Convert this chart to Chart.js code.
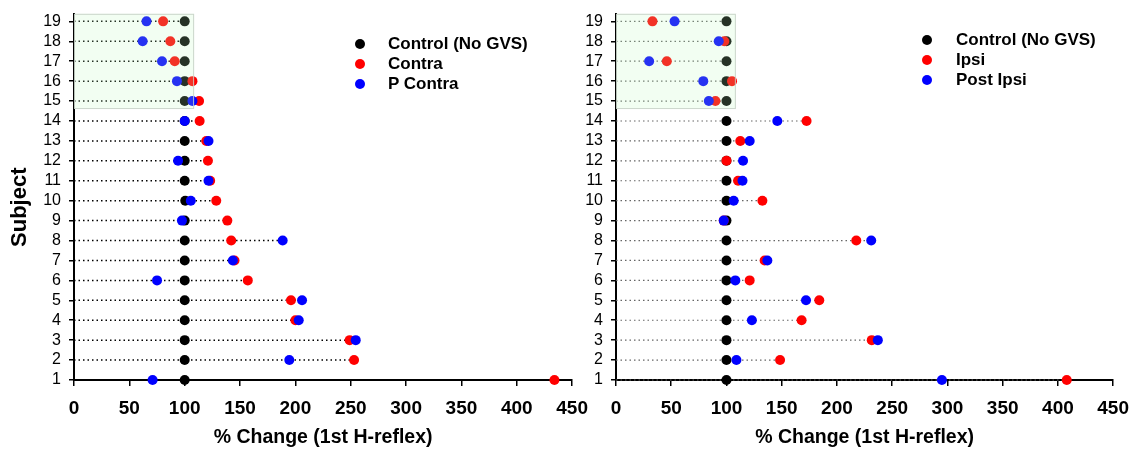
<!DOCTYPE html>
<html><head><meta charset="utf-8">
<script src="https://cdn.jsdelivr.net/npm/chart.js@4/dist/chart.umd.min.js"></script>
<style>
html,body{margin:0;padding:0;background:#fff;}
body{width:1134px;height:452px;position:relative;overflow:hidden;font-family:"Liberation Sans",Arial,sans-serif;}
canvas{position:absolute;top:0;}
.lg{position:absolute;font-weight:bold;font-size:17px;color:#000;white-space:nowrap;line-height:20px;height:20px;}
.dot{position:absolute;width:10px;height:10px;border-radius:50%;}
</style></head>
<body>
<canvas id="c1" width="599" height="452" style="left:0px"></canvas>
<canvas id="c2" width="573" height="452" style="left:567px"></canvas>
<div id="legends"></div>
<script>
// ---- data ----
const subjects = [1,2,3,4,5,6,7,8,9,10,11,12,13,14,15,16,17,18,19];
const xTicks = [0,50,100,150,200,250,300,350,400,450];
// Left panel (contralateral)
const controlLeft = [100,100,100,100,100,100,100,100,100,100.5,100,100,100,100,100,100,100,100,100];
const contra      = [434,253,249,200,196,157,145,142,138.5,128.5,123,121,119.5,113.5,113,107,91,87,80.5];
const pContra     = [71,194.5,254.5,203,206,75,143.5,188.5,97.5,105.5,121.5,94,121.5,100,107,93,79.5,62,65.5];
// Right panel (ipsilateral)
const controlRight = [100,100,100,100,100,100,100,100,100,100,100,100,100,100,100,100,100,100,100];
const ipsi         = [408,148.5,231.5,168,184,121,134.5,217.5,97.5,132.5,110.5,100,112.5,172.5,90,105,46,98,33];
const postIpsi     = [295,109,237,123,172,108,137,231,97.5,106.5,114.5,115,121,146,84,79,30,93,53];

const leftLabels  = ["Control (No GVS)","Contra","P Contra"];
const rightLabels = ["Control (No GVS)","Ipsi","Post Ipsi"];
const seriesColors = ["#000000","#ff0000","#0000ff"];
const yTitleText = "Subject";
const xTitleText = "% Change (1st H-reflex)";

// shaded region (subjects 15-19, values up to ~108)
const BOX_X_MIN = 0, BOX_X_MAX = 108.5, BOX_Y_MIN = 14.6, BOX_Y_MAX = 19.38;

function pts(vals){ return subjects.map((s,i)=>({x:vals[i], y:s})); }
function segs(a,b,c){
  const out=[];
  subjects.forEach((s,i)=>{
    out.push({x:0,y:s});
    out.push({x:Math.max(a[i],b[i],c[i]),y:s});
    out.push({x:null,y:null});
  });
  return out;
}

const FONT = '"Liberation Sans", Arial';

const boxPlugin = {
  id:'box',
  afterDatasetsDraw(chart){
    const {x,y} = chart.scales; const ctx = chart.ctx;
    const l = x.getPixelForValue(BOX_X_MIN), r = x.getPixelForValue(BOX_X_MAX);
    const t = y.getPixelForValue(BOX_Y_MAX), b = y.getPixelForValue(BOX_Y_MIN);
    ctx.save();
    ctx.fillStyle = 'rgba(190,250,190,0.2)';
    ctx.fillRect(l, t, r-l, b-t);
    ctx.strokeStyle = 'rgba(200,210,200,0.9)';
    ctx.lineWidth = 1;
    ctx.strokeRect(l+0.5, t+0.5, r-l-1, b-t-1);
    ctx.restore();
  }
};

// y-axis title, slightly below the axis centre as in the original
const yTitlePlugin = {
  id:'ytitle',
  afterDraw(chart, args, opts){
    if(!opts.show) return;
    const ctx = chart.ctx, ca = chart.chartArea;
    ctx.save();
    ctx.translate(20, (ca.top + ca.bottom)/2 + 10);
    ctx.rotate(-Math.PI/2);
    ctx.font = 'bold 22px ' + FONT;
    ctx.fillStyle = '#000';
    ctx.textAlign = 'center';
    ctx.textBaseline = 'middle';
    ctx.fillText(yTitleText, 0, 0);
    ctx.restore();
  }
};

function makeChart(id, ctrl, s1, s2, cfg){
  const ds = [
    {data:pts(s2), backgroundColor:seriesColors[2], pointRadius:5, pointBorderWidth:0, clip:false},
    {data:pts(s1), backgroundColor:seriesColors[1], pointRadius:5, pointBorderWidth:0, clip:false},
    {data:pts(ctrl), backgroundColor:seriesColors[0], pointRadius:5, pointBorderWidth:0, clip:false},
    {data:segs(ctrl,s1,s2), showLine:true, spanGaps:false, pointRadius:0, borderColor:cfg.dotColor, borderWidth:cfg.dotWidth, borderDash:[1.5,3], clip:false}
  ];
  return new Chart(document.getElementById(id), {
    type:'scatter',
    data:{datasets:ds},
    plugins:[boxPlugin, yTitlePlugin],
    options:{
      responsive:false, animation:false, devicePixelRatio:1,
      layout:{padding:{top:14, right:4, bottom:0, left:0}},
      plugins:{legend:{display:false}, tooltip:{enabled:false}, ytitle:{show:cfg.yTitle}},
      scales:{
        x:{type:'linear', min:0, max:450,
          afterBuildTicks(s){ s.ticks = xTicks.map(v=>({value:v})); },
          ticks:{color:'#000', font:{family:FONT, size:19, weight:'bold'}, padding:11, maxRotation:0, autoSkip:false},
          grid:{drawOnChartArea:false, drawTicks:true, tickLength:6, color:'#000', lineWidth:1.5},
          border:{color:'#000', width:2},
          title:{display:true, text:xTitleText, color:'#000', font:{family:FONT, size:19.5, weight:'bold'}, padding:{top:0,bottom:3}},
          afterFit(s){ s.height = 72; }
        },
        y:{type:'linear', min:1, max:19.35,
          afterBuildTicks(s){ s.ticks = subjects.map(v=>({value:v})); },
          ticks:{color:'#000', font:{family:FONT, size:16, lineHeight:0.8}, padding:8, autoSkip:false},
          grid:{drawOnChartArea:false, drawTicks:true, tickLength:5, color:'#000', lineWidth:1.5},
          border:{color:'#000', width:2},
          title:{display:false},
          afterFit(s){ s.width = cfg.yWidth; }
        }
      }
    }
  });
}

makeChart('c1', controlLeft, contra, pContra, {yWidth:74, yTitle:true, dotColor:'#000', dotWidth:1.5});
makeChart('c2', controlRight, ipsi, postIpsi, {yWidth:49, yTitle:false, dotColor:'#666', dotWidth:1.2});

// legends (HTML)
function legend(labels, dotX, textX, yTop){
  const host = document.getElementById('legends');
  labels.forEach((t,i)=>{
    const cy = yTop + i*20;
    const d = document.createElement('div'); d.className='dot';
    d.style.left=(dotX-5)+'px'; d.style.top=(cy-5)+'px'; d.style.background=seriesColors[i];
    host.appendChild(d);
    const l = document.createElement('div'); l.className='lg';
    l.style.left=textX+'px'; l.style.top=(cy-10)+'px'; l.textContent=t;
    host.appendChild(l);
  });
}
legend(leftLabels, 360, 388, 44);
legend(rightLabels, 927, 956, 40);
</script>
</body></html>
